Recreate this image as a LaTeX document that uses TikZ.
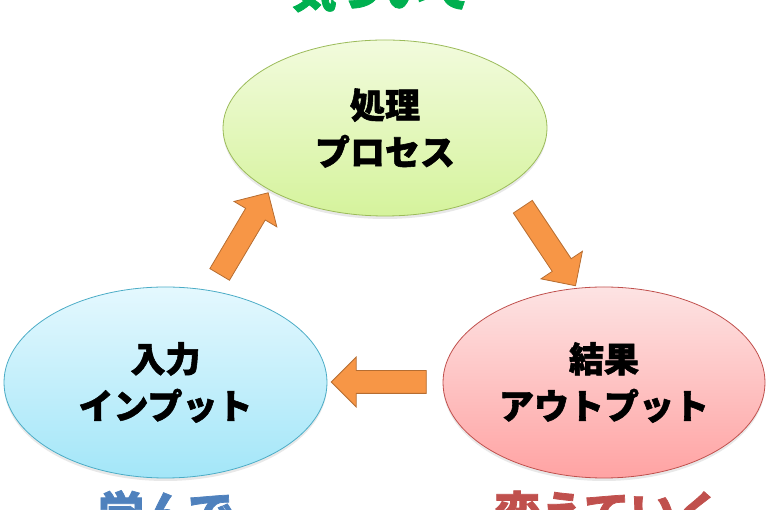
\documentclass[tikz,border=0pt]{standalone}
\usepackage{fontspec}
\newfontfamily\cjk{Noto Sans CJK JP}[BoldFeatures={FakeBold=1.6}]
\usetikzlibrary{shapes.geometric,shapes.arrows,shadows}
\definecolor{gTop}{HTML}{F2FBDD}
\definecolor{gBot}{HTML}{D5F39C}
\definecolor{gLine}{HTML}{9BBB59}
\definecolor{bTop}{HTML}{E4F8FE}
\definecolor{bBot}{HTML}{A3E6F8}
\definecolor{bLine}{HTML}{4BACC6}
\definecolor{rTop}{HTML}{FDE3E3}
\definecolor{rBot}{HTML}{FFA3A3}
\definecolor{rLine}{HTML}{C0504D}
\definecolor{arrFill}{HTML}{F79646}
\definecolor{arrLine}{HTML}{B66D31}
\definecolor{txtGreen}{HTML}{00B050}
\definecolor{txtBlue}{HTML}{4F81BD}
\definecolor{txtRed}{HTML}{C0504D}
\begin{document}
\begin{tikzpicture}[x=1pt,y=1pt,
  bubble/.style={ellipse, inner sep=0pt, align=center, line width=0.8pt,
    font=\cjk\bfseries\fontsize{35}{47}\selectfont,
    drop shadow={opacity=0.18, shadow xshift=0pt, shadow yshift=-3pt}},
  blockarrow/.style={single arrow, fill=arrFill, draw=arrLine, line width=0.8pt,
    inner xsep=0pt, inner ysep=11pt, minimum height=95pt,
    single arrow head extend=13.5pt},
  caption/.style={font=\cjk\bfseries\fontsize{46}{46}\selectfont, inner sep=0pt, anchor=base}]
\useasboundingbox (0,0) rectangle (770,510);
\clip (0,0) rectangle (770,510);
\node[bubble, minimum width=324pt, minimum height=176pt, top color=gTop, bottom color=gBot, draw=gLine]
  (proc) at (385,382) {処理\\プロセス};
\node[bubble, minimum width=323pt, minimum height=191pt, top color=bTop, bottom color=bBot, draw=bLine]
  (inp) at (165.5,127.5) {入力\\インプット};
\node[bubble, minimum width=322pt, minimum height=191pt, top color=rTop, bottom color=rBot, draw=rLine]
  (outp) at (604,127.5) {結果\\アウトプット};
\node[blockarrow, rotate=59.3] (a1) at (241,271.5) {};
\node[blockarrow, rotate=-56.3] (a2) at (546,268.5) {};
\node[blockarrow, rotate=180] (a3) at (384.5,128) {};
\node[caption, text=txtGreen] (tgreen) at (382,503) {気づいて};
\node[caption, text=txtBlue] (tblue) at (166,-20) {学んで};
\node[caption, text=txtRed] (tred) at (608,-20) {変えていく};
\end{tikzpicture}
\end{document}
